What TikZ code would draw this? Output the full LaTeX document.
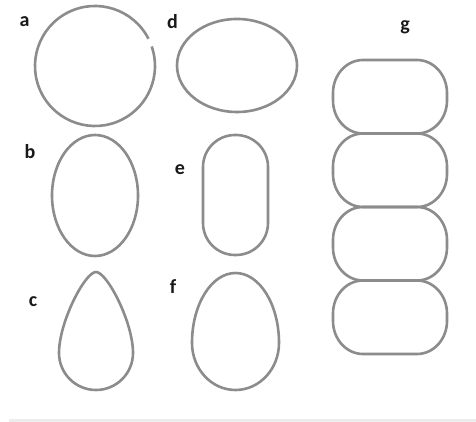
\documentclass[tikz,border=0pt]{standalone}
\usepackage{fontspec}
\newfontfamily\lblfont{Carlito}
\definecolor{outline}{RGB}{140,140,140}
\definecolor{lbl}{RGB}{25,25,25}
\definecolor{strip}{RGB}{236,236,236}
\tikzset{
  cell/.style={draw=outline, line width=2.6pt},
  lab/.style={font=\lblfont\bfseries\fontsize{20}{22}\selectfont, text=lbl, inner sep=0pt}
}
\begin{document}
\begin{tikzpicture}[x=1pt,y=1pt]
\useasboundingbox (0,0) rectangle (476,422);
\fill[white] (0,0) rectangle (476,422);
\fill[strip] (9,0) rectangle (476,2.5);
% a
\coordinate (ca) at (95,356);
\draw[cell] ([shift={(27:60)}]ca) arc[start angle=27, end angle=379, radius=60];
\node[lab] (la) at (24.5,400) {a};
% d
\coordinate (cd) at (237,356.5);
\draw[cell] (cd) ellipse[x radius=60, y radius=46.5];
\node[lab] (ld) at (172.5,400) {d};
% b
\coordinate (cb) at (95,226.5);
\draw[cell] (cb) ellipse[x radius=43, y radius=60.5];
\node[lab] (lb) at (30,270) {b};
% e
\draw[cell, rounded corners=32pt] (203,167) rectangle (268,287);
\node[lab] (le) at (180,252) {e};
% c teardrop
\draw[cell] (133,69) arc[start angle=0, end angle=-180, radius=37]
  .. controls (59,100) and (85,150) .. (96,150)
  .. controls (107,150) and (133,100) .. (133,69) -- cycle;
\node[lab] (lc) at (33,120) {c};
% f egg
\draw[cell] (192,79) arc[start angle=180, end angle=360, x radius=43.5, y radius=47]
  arc[start angle=0, end angle=180, x radius=43.5, y radius=70] -- cycle;
\node[lab] (lf) at (173,135) {f};
% g stack
\foreach \yb/\yt in {288.5/362, 215/288.5, 141.5/215, 68/141.5}{
  \draw[cell] (363,\yt) -- (417,\yt)
     arc[start angle=90, end angle=0, x radius=30, y radius=33]
     -- (447,\yb+33)
     arc[start angle=0, end angle=-90, x radius=30, y radius=33]
     -- (363,\yb)
     arc[start angle=270, end angle=180, x radius=30, y radius=33]
     -- (333,\yt-33)
     arc[start angle=180, end angle=90, x radius=30, y radius=33] -- cycle;
}
\node[lab] (lg) at (405,395) {g};
\end{tikzpicture}
\end{document}
